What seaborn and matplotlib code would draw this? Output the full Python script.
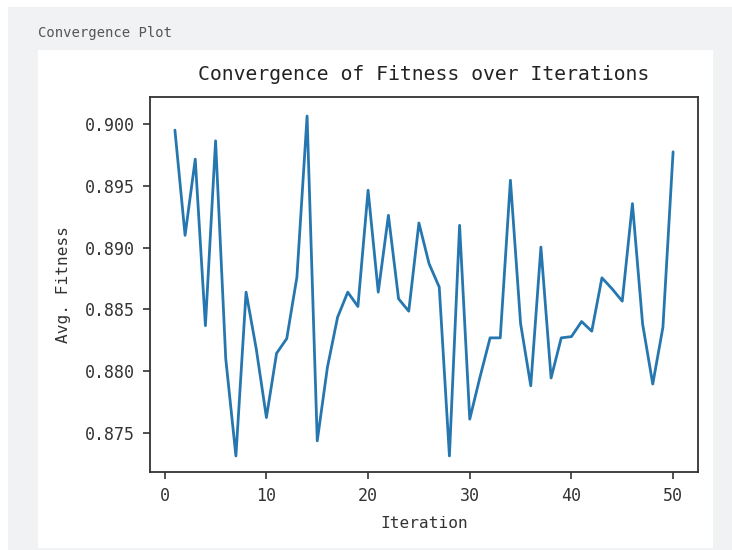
import matplotlib
matplotlib.use("Agg")
import matplotlib.pyplot as plt
import seaborn as sns
import pandas as pd
from matplotlib.patches import Rectangle

iterations = list(range(1, 51))
avg_fitness = [
    0.89951, 0.89099, 0.89716, 0.88368, 0.89864, 0.88100, 0.87313, 0.88639, 0.88180, 0.87624,
    0.88144, 0.88263, 0.88761, 0.90065, 0.87435, 0.88030, 0.88436, 0.88639, 0.88523, 0.89464,
    0.88639, 0.89261, 0.88585, 0.88485, 0.89199, 0.88869, 0.88680, 0.87313, 0.89180, 0.87611,
    0.87949, 0.88269, 0.88269, 0.89545, 0.88385, 0.87881, 0.89004, 0.87944, 0.88269, 0.88279,
    0.88401, 0.88323, 0.88755, 0.88666, 0.88566, 0.89356, 0.88382, 0.87895, 0.88355, 0.89775,
]
x_ticks = [0, 10, 20, 30, 40, 50]
y_ticks = [0.875, 0.880, 0.885, 0.890, 0.895, 0.900]

title = "Convergence of Fitness over Iterations"
panel_label = "Convergence Plot"

sns.set_style("ticks")
plt.rcParams["font.family"] = ["DejaVu Sans Mono", "DejaVu Sans"]

df = pd.DataFrame({"Iteration": iterations, "Avg. Fitness": avg_fitness})

W, H = 732, 550
fig = plt.figure(figsize=(W / 100, H / 100), dpi=100)
fig.patch.set_facecolor("white")

# app background and white panel
fig.patches.append(Rectangle((8 / W, 0), (W - 8) / W, (H - 7) / H,
                             transform=fig.transFigure, facecolor="#f0f2f4",
                             edgecolor="none", zorder=-10))
fig.patches.append(Rectangle((38 / W, 2 / H), (713 - 38) / W, (548 - 50) / H,
                             transform=fig.transFigure, facecolor="white",
                             edgecolor="none", zorder=-9))
fig.text(38 / W, 1 - 33 / H, panel_label, fontsize=10, color="#555555",
         va="center", ha="left")

ax = fig.add_axes([150 / W, 1 - 472 / H, (698 - 150) / W, (472 - 97) / H])
ax.set_facecolor("white")
sns.lineplot(data=df, x="Iteration", y="Avg. Fitness", ax=ax,
             color="#2677b0", linewidth=2.0)

ax.set_xticks(x_ticks)
ax.set_yticks(y_ticks)
ax.set_xlim(-1.45, 52.45)
ax.set_ylim(0.87183, 0.90219)
ax.yaxis.set_major_formatter(matplotlib.ticker.FormatStrFormatter("%.3f"))

for s in ax.spines.values():
    s.set_visible(True)
    s.set_linewidth(1.3)
    s.set_color("#333333")

ax.tick_params(axis="both", labelsize=12, colors="#333333", length=5, width=1.2,
               pad=6)
ax.set_xlabel("Iteration", fontsize=11.6, color="#333333", labelpad=8)
ax.set_ylabel("Avg. Fitness", fontsize=11.6, color="#333333", labelpad=10)
ax.set_title(title, fontsize=14.2, color="#222222", pad=12)

fig.savefig("out.png", dpi=100)
